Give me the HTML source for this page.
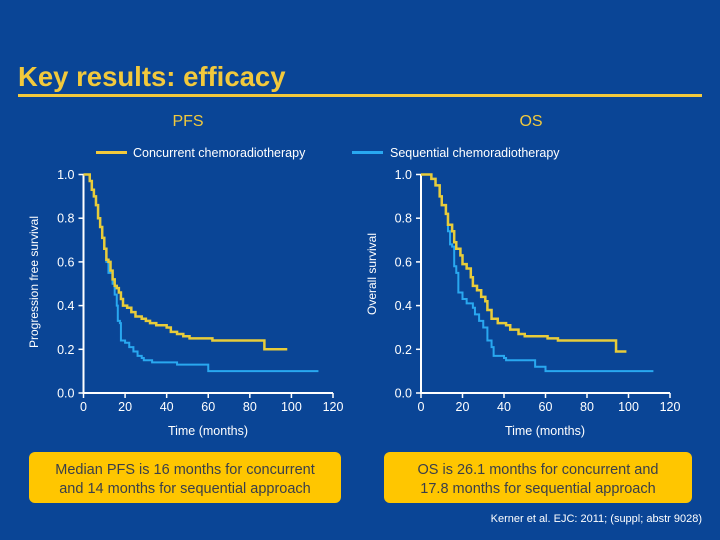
<!DOCTYPE html>
<html><head><meta charset="utf-8"><style>
body{margin:0;width:720px;height:540px;background:#0a4596;overflow:hidden;font-family:"Liberation Sans",sans-serif}
svg{display:block}
</style></head><body>
<svg width="720" height="540">
<text x="18" y="86" font-size="27.5" font-weight="bold" fill="#f2c93c">Key results: efficacy</text>
<rect x="18" y="94" width="684" height="3" fill="#f2c93c"/>
<text x="188" y="126" font-size="16" fill="#f2c93c" text-anchor="middle">PFS</text>
<text x="531" y="126" font-size="16" fill="#f2c93c" text-anchor="middle">OS</text>
<g>
<rect x="96" y="151" width="31" height="3" fill="#f2c93c"/>
<text x="133" y="157" font-size="12.5" fill="#fff">Concurrent chemoradiotherapy</text>
<rect x="352" y="151" width="31" height="3" fill="#29a8f0"/>
<text x="390" y="157" font-size="12.5" fill="#fff">Sequential chemoradiotherapy</text>
</g>
<g id="c1"></g>
<g id="c2"></g>
<text transform="translate(38,282) rotate(-90)" font-size="12" fill="#fff" text-anchor="middle">Progression free survival</text>
<text transform="translate(376,274) rotate(-90)" font-size="12" fill="#fff" text-anchor="middle">Overall survival</text>
<text x="208" y="435" font-size="12.5" fill="#fff" text-anchor="middle">Time (months)</text>
<text x="545" y="435" font-size="12.5" fill="#fff" text-anchor="middle">Time (months)</text>
<g>
<rect x="29" y="452" width="312" height="51" rx="6" fill="#ffc600"/>
<text x="185" y="474" font-size="14.5" fill="#3a3f4a" text-anchor="middle">Median PFS is 16 months for concurrent</text>
<text x="185" y="493" font-size="14.5" fill="#3a3f4a" text-anchor="middle">and 14 months for sequential approach</text>
</g>
<g>
<rect x="384" y="452" width="308" height="51" rx="6" fill="#ffc600"/>
<text x="538" y="474" font-size="14.5" fill="#3a3f4a" text-anchor="middle">OS is 26.1 months for concurrent and</text>
<text x="538" y="493" font-size="14.5" fill="#3a3f4a" text-anchor="middle">17.8 months for sequential approach</text>
</g>
<text x="702" y="522" font-size="11" fill="#fff" text-anchor="end">Kerner et al. EJC: 2011; (suppl; abstr 9028)</text>
</svg>
<script>
const xTicks=[0,20,40,60,80,100,120];
const yTicks=[0.0,0.2,0.4,0.6,0.8,1.0];
const pfsConcT=[0,2,3,4,5,6,7,8,9,10,11,12,13,14,15,16,17,18,19,21,23,25,28,30,32,35,40,42,45,48,51,62,87,98];
const pfsConcS=[1,1,.97,.93,.9,.86,.8,.76,.71,.66,.61,.6,.56,.52,.49,.48,.46,.43,.4,.39,.37,.35,.34,.33,.32,.31,.3,.28,.27,.26,.25,.24,.2,.2];
const pfsSeqT=[0,2,3,4,5,6,7,8,9,10,11,12,14,15,16,16.5,17.5,18,20,22,24,26,28,29,33,45,60,113];
const pfsSeqS=[1,1,.97,.93,.9,.86,.8,.76,.71,.66,.6,.55,.5,.45,.4,.33,.32,.24,.23,.21,.19,.17,.16,.15,.14,.13,.1,.1];
const osConcT=[0,3,5,7,9,10,12,13,15,16,17,19,20,22,24,25,27,29,31,32,34,37,41,43,47,50,61,66,94,99];
const osConcS=[1,1,.98,.95,.9,.86,.82,.77,.74,.69,.66,.63,.59,.57,.53,.49,.47,.44,.42,.38,.34,.32,.31,.29,.27,.26,.25,.24,.19,.19];
const osSeqT=[0,3,5,7,9,10,12,13,14,15,16,17,18,20,22,25,26,28,30,32,34,35,40,41,55,60,112];
const osSeqS=[1,1,.98,.95,.9,.86,.82,.74,.68,.67,.58,.55,.46,.43,.41,.39,.36,.33,.3,.24,.21,.17,.16,.15,.12,.1,.1];
const NS='http://www.w3.org/2000/svg';
function mk(t,a,p){const e=document.createElementNS(NS,t);for(const k in a)e.setAttribute(k,a[k]);p.appendChild(e);return e;}
function chart(g,x0,x1,conc,seq){
  const y0=393,y1=174.5;
  const X=v=>x0+(x1-x0)*v/120, Y=v=>y0-(y0-y1)*v;
  const ax=mk('path',{d:`M${X(0)} ${Y(1)}V${Y(0)}H${X(120)}`,stroke:'#fff','stroke-width':2,fill:'none'},g);
  
  
  xTicks.forEach(t=>{
    const l=mk('line',{x1:X(t),x2:X(t),y1:Y(0),y2:Y(0)+5,stroke:'#fff','stroke-width':1.5},g);
    
    
    const tx=mk('text',{x:X(t),y:Y(0)+18,'font-size':12.5,fill:'#fff','text-anchor':'middle'},g);
    tx.textContent=t;
    
    
  });
  yTicks.forEach(t=>{
    const l=mk('line',{x1:X(0)-5,x2:X(0),y1:Y(t),y2:Y(t),stroke:'#fff','stroke-width':1.5},g);
    
    
    const tx=mk('text',{x:X(0)-9,y:Y(t)+4.5,'font-size':12.5,fill:'#fff','text-anchor':'end'},g);
    tx.textContent=t.toFixed(1);
    
    
  });
  function step(T,S){let d=`M${X(T[0])} ${Y(S[0])}`;for(let i=1;i<T.length;i++)d+=`H${X(T[i])}V${Y(S[i])}`;return d;}
  const b=mk('path',{d:step(seq[0],seq[1]),stroke:'#29a8f0','stroke-width':2,fill:'none'},g);
  
  
  const y=mk('path',{d:step(conc[0],conc[1]),stroke:'#e8cc3a','stroke-width':2.5,fill:'none'},g);
  
  
}
chart(document.getElementById('c1'),83.5,333,[pfsConcT,pfsConcS],[pfsSeqT,pfsSeqS]);
chart(document.getElementById('c2'),421,670,[osConcT,osConcS],[osSeqT,osSeqS]);
</script>
</body></html>
